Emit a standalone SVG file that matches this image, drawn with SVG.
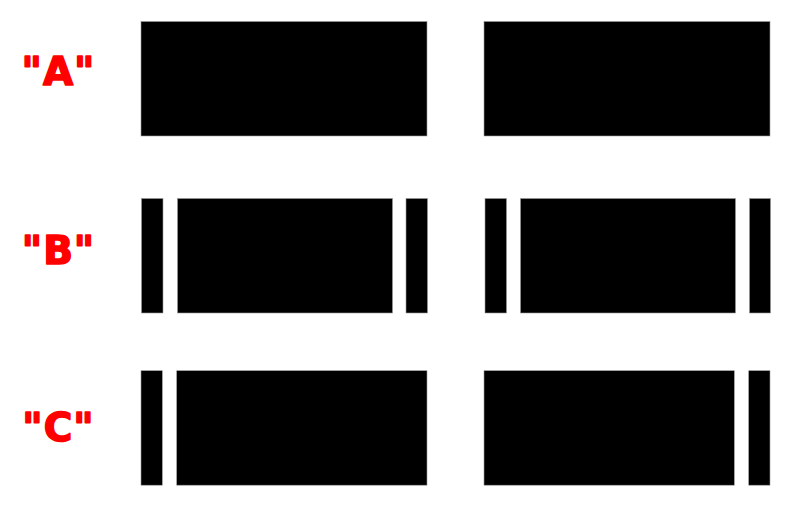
<svg xmlns="http://www.w3.org/2000/svg" width="792" height="525" viewBox="0 0 792 525">
<style>
.b{fill:#000;stroke:#999;stroke-width:0.6}
.l{fill:#ff0000;stroke:#ff0000;stroke-width:1.6;stroke-linejoin:round;font-family:"DejaVu Sans",Verdana,sans-serif;font-weight:bold;font-size:39px;text-anchor:middle;letter-spacing:1px}
</style>
<rect width="792" height="525" fill="#fff"/>
<g id="rowA">
<text class="l" x="58.5" y="85">"A"</text>
<rect class="b" x="141" y="21.5" width="286" height="114.5"/>
<rect class="b" x="484" y="21.5" width="286" height="114.5"/>
</g>
<g id="rowB">
<text class="l" x="58.5" y="264">"B"</text>
<rect class="b" x="141.5" y="198.5" width="21.5" height="114.5"/>
<rect class="b" x="177.5" y="198.5" width="215" height="114.5"/>
<rect class="b" x="406" y="198.5" width="21.5" height="114.5"/>
<rect class="b" x="485" y="198.5" width="21.5" height="114.5"/>
<rect class="b" x="520.5" y="198.5" width="215" height="114.5"/>
<rect class="b" x="749.5" y="198.5" width="21" height="114.5"/>
</g>
<g id="rowC">
<text class="l" x="58.5" y="440.5">"C"</text>
<rect class="b" x="141" y="370.7" width="21.3" height="114.5"/>
<rect class="b" x="176.7" y="370.7" width="250.3" height="114.5"/>
<rect class="b" x="484" y="370.7" width="250.3" height="114.5"/>
<rect class="b" x="748.7" y="370.7" width="21.3" height="114.5"/>
</g>
<g id="connectors"/>
</svg>
